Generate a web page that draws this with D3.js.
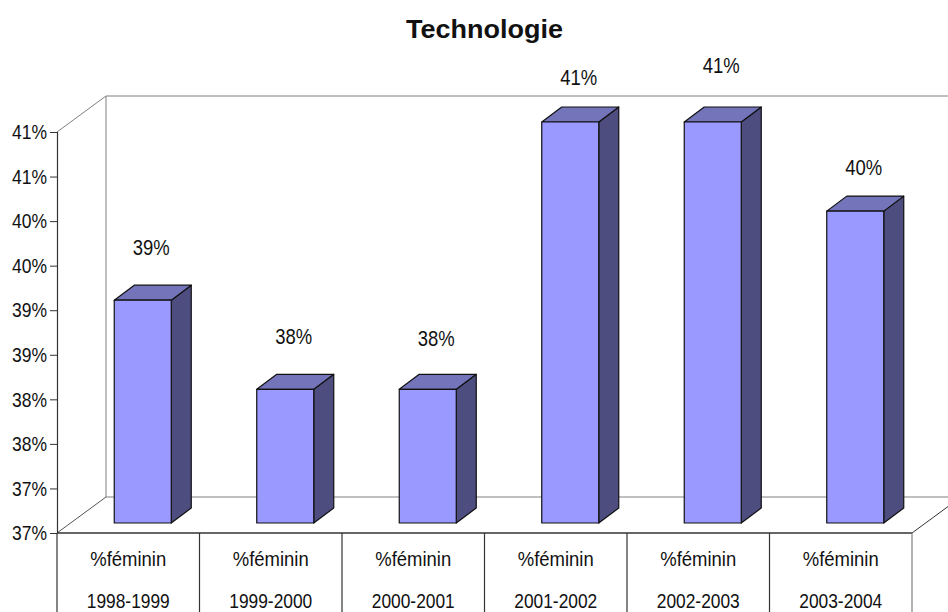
<!DOCTYPE html>
<html><head><meta charset="utf-8">
<script src="https://cdnjs.cloudflare.com/ajax/libs/d3/7.8.5/d3.min.js"></script>
<style>html,body{margin:0;padding:0;background:#fff;overflow:hidden}svg{display:block}
text{font-family:"Liberation Sans",Arial,sans-serif;fill:#111}</style></head><body>
<svg id="c" width="948" height="612"></svg>
<script>
const seriesName = "%féminin";
const years = ["1998-1999","1999-2000","2000-2001","2001-2002","2002-2003","2003-2004"];
const values = [39.1,38.1,38.1,41.1,41.1,40.1];
const labelLift = [52,52,50,44,56,43];
const yTicks = [36.6,37.1,37.6,38.1,38.6,39.1,39.6,40.1,40.6,41.1];
const title = "Technologie";

const svg = d3.select("#c");
const W = 948, H = 612;
const plotLeft = 57, plotRight = 912, plotBottom = 533, plotTop = 132;
const wallDX = 49, wallDY = 36;
const barShiftX = 14.5, barShiftY = 10, depthX = 20, depthY = 15;
const x = d3.scaleBand().domain(years).range([plotLeft,plotRight]).paddingInner(0.6).paddingOuter(0.3);
const band = d3.scaleBand().domain(years).range([plotLeft,plotRight]);
const y = d3.scaleLinear().domain([yTicks[0],yTicks[yTicks.length-1]]).range([plotBottom,plotTop]);
const gray = "#808080", dark = "#333";

// walls
const walls = svg.append("g").attr("fill","none").attr("stroke",gray).attr("stroke-width",1);
walls.append("path").attr("d",`M${plotLeft},${plotTop}L${plotLeft+wallDX},${plotTop-wallDY}L${W},${plotTop-wallDY}`);
walls.append("path").attr("d",`M${plotLeft+wallDX},${plotTop-wallDY}V${plotBottom-wallDY}H${W}`);
walls.append("path").attr("stroke","#555").attr("d",`M${plotLeft},${plotBottom}L${plotLeft+wallDX},${plotBottom-wallDY}`);
walls.append("path").attr("stroke","#333").attr("d",`M${plotRight},${plotBottom}L${plotRight+wallDX},${plotBottom-wallDY}`);

// bars
const bars = svg.append("g").selectAll("g").data(years).join("g")
  .attr("stroke","#111").attr("stroke-width",1.2).attr("stroke-linejoin","round");
const bx = d => x(d) + barShiftX;
const bw = x.bandwidth();
const val = i => values[i];
const topY = i => y(val(i)) - barShiftY;
const baseY = y(yTicks[0]) - barShiftY;
bars.append("path").attr("fill","#4d4d80")
  .attr("d",(d,i)=>`M${bx(d)+bw},${topY(i)}l${depthX},${-depthY}V${baseY-depthY}l${-depthX},${depthY}Z`);
bars.append("path").attr("fill","#7474bb")
  .attr("d",(d,i)=>`M${bx(d)},${topY(i)}l${depthX},${-depthY}h${bw}l${-depthX},${depthY}Z`);
bars.append("rect").attr("fill","#9999ff")
  .attr("x",d=>bx(d)).attr("y",(d,i)=>topY(i)).attr("width",bw).attr("height",(d,i)=>baseY-topY(i));

// data labels
svg.append("g").selectAll("text").data(years).join("text")
  .attr("text-anchor","middle").attr("font-size",22).attr("textLength",37).attr("lengthAdjust","spacingAndGlyphs")
  .attr("x",d=>bx(d)+bw/2+8.5)
  .attr("y",(d,i)=>topY(i)-labelLift[i]+7)
  .text((d,i)=>d3.format(".0f")(val(i))+"%");

// y axis
const axis = d3.axisLeft(y).tickValues(yTicks).tickSize(7).tickPadding(3).tickFormat(v=>d3.format(".0f")(v)+"%");
const gy = svg.append("g").attr("transform",`translate(${plotLeft},0)`).call(axis);
gy.select(".domain").attr("stroke",dark).attr("stroke-width",1.2);
gy.selectAll(".tick line").attr("stroke",dark);
gy.selectAll(".tick").filter((d,i)=>i===yTicks.length-1).select("line").remove();
gy.selectAll("text").attr("font-size",21).attr("font-family",'"Liberation Sans",Arial,sans-serif').attr("fill","#111")
  .attr("textLength",35).attr("lengthAdjust","spacingAndGlyphs");

// data table under axis
const tbl = svg.append("g");
tbl.append("line").attr("x1",plotLeft).attr("x2",plotRight).attr("y1",plotBottom).attr("y2",plotBottom).attr("stroke",dark).attr("stroke-width",1.5);
const edges = years.map(d=>band(d)).concat([plotRight]);
tbl.selectAll("line.v").data(edges).join("line").attr("class","v")
  .attr("x1",d=>d).attr("x2",d=>d).attr("y1",plotBottom).attr("y2",H)
  .attr("stroke",(d,i)=>i===years.length?gray:dark).attr("stroke-width",1.2);
const cellC = d => band(d)+band.bandwidth()/2;
tbl.selectAll("text.s").data(years).join("text").attr("class","s")
  .attr("x",cellC).attr("y",566).attr("text-anchor","middle").attr("font-size",21)
  .attr("textLength",76).attr("lengthAdjust","spacingAndGlyphs").text(seriesName);
tbl.selectAll("text.y").data(years).join("text").attr("class","y")
  .attr("x",cellC).attr("y",607.5).attr("text-anchor","middle").attr("font-size",20)
  .attr("textLength",83).attr("lengthAdjust","spacingAndGlyphs").text(d=>d);

svg.append("text").attr("x",484.5).attr("y",38).attr("text-anchor","middle")
  .attr("font-size",26).attr("font-weight","bold").attr("fill","#000")
  .attr("textLength",157).attr("lengthAdjust","spacingAndGlyphs").text(title);
</script></body></html>
